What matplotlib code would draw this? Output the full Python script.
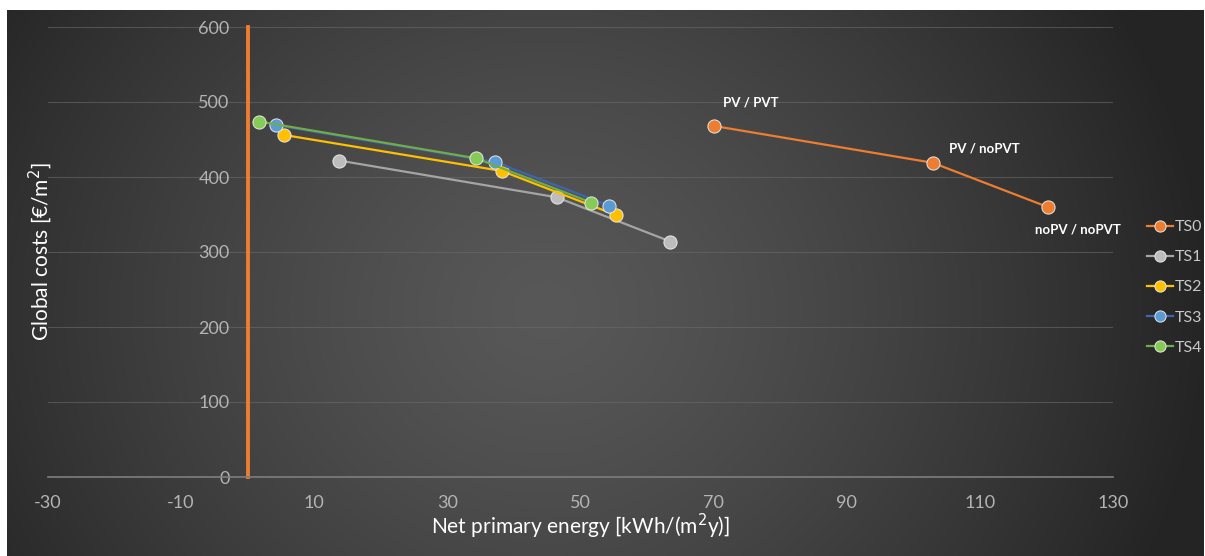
import numpy as np
import matplotlib
matplotlib.use("Agg")
import matplotlib.pyplot as plt

plt.rcParams['font.family'] = ['Lato', 'DejaVu Sans']
plt.rcParams['axes.unicode_minus'] = False

# data
series_names = ['TS0', 'TS1', 'TS2', 'TS3', 'TS4']
ts0_x = [70.1, 102.9, 120.2]
ts0_y = [468, 419, 360]
ts1_x = [13.7, 46.4, 63.5]
ts1_y = [422, 373, 314]
ts2_x = [5.5, 38.2, 55.4]
ts2_y = [456, 408, 349]
ts3_x = [4.3, 37.1, 54.3]
ts3_y = [469, 420, 362]
ts4_x = [1.7, 34.3, 51.6]
ts4_y = [474, 425, 366]
ts0_labels = ['PV / PVT', 'PV / noPVT', 'noPV / noPVT']
x_ticks = [-30, -10, 10, 30, 50, 70, 90, 110, 130]
y_ticks = [0, 100, 200, 300, 400, 500, 600]

line_cols = ['#ED7D31', '#A5A5A5', '#FFC000', '#3E64B0', '#70AD47']
mark_cols = ['#ED7D31', '#BDBDBD', '#FFC000', '#5B9BD5', '#86CB55']

W, H = 1205, 556
fig = plt.figure(figsize=(W / 100, H / 100), dpi=100)
fig.patch.set_facecolor('white')

# dark gradient backdrop
bg = fig.add_axes([7 / W, 0, (1204 - 7) / W, (H - 10) / H])
bg.set_axis_off()
gx, gy = np.meshgrid(np.linspace(0, 1, 400), np.linspace(0, 1, 200))
r = np.sqrt(((gx - 0.45) / 0.55) ** 2 + ((gy - 0.55) / 1.1) ** 2)
v = np.clip(0x58 - (0x58 - 0x25) * r ** 1.3, 0x24, 0x58) / 255.0
bg.imshow(np.dstack([v, v, v]), aspect='auto', extent=[0, 1, 0, 1])
bg.set_zorder(0)

ax = fig.add_axes([48 / W, (H - 477) / H, (1113 - 48) / W, (477 - 27) / H])
ax.set_zorder(1)
ax.patch.set_alpha(0)

xs = [ts0_x, ts1_x, ts2_x, ts3_x, ts4_x]
ys = [ts0_y, ts1_y, ts2_y, ts3_y, ts4_y]
for i in range(len(series_names)):
    ax.plot(xs[i], ys[i], '-', color=line_cols[i], lw=1.6, marker='o', ms=9.5,
            markerfacecolor=mark_cols[i], markeredgecolor='#e8e8e8', markeredgewidth=0.7,
            label=series_names[i], zorder=3 + i)

offsets = [(26, 17), (37, 10), (22, -16)]
for k in range(3):
    ax.annotate(ts0_labels[k], (ts0_x[k], ts0_y[k]), xytext=offsets[k],
                textcoords='offset points', ha='center', va='center',
                color='white', fontsize=9.5, fontweight='bold', zorder=10)

ax.set_xlim(-30, 130)
ax.set_ylim(0, 600)
ax.set_xticks(x_ticks)
ax.set_yticks(y_ticks)
ax.grid(axis='y', color='#6a6a6a', lw=0.8, alpha=0.6)
ax.set_axisbelow(True)

for s in ['top', 'right']:
    ax.spines[s].set_visible(False)
ax.spines['left'].set_position(('data', 0))
ax.spines['left'].set_color('#ED7D31')
ax.spines['left'].set_linewidth(2.8)
ax.spines['left'].set_zorder(2)
ax.spines['bottom'].set_color('#7e7e7e')
ax.spines['bottom'].set_linewidth(1.2)

ax.tick_params(axis='both', length=0, labelsize=13, labelcolor='#b4b4b4')
ax.tick_params(axis='y', pad=13)
ax.tick_params(axis='x', pad=13)

ax.set_xlabel('Net primary energy [kWh/(m$^2$y)]', color='white', fontsize=15)
ax.xaxis.set_label_coords(0.5, -(512 - 477) / 450)
ax.set_ylabel('Global costs [€/m$^2$]', color='white', fontsize=15)
ax.yaxis.set_label_coords(0.006, 0.5)

leg = ax.legend(loc='upper left', bbox_to_anchor=(1147 / W, (H - 220) / H),
                bbox_transform=fig.transFigure, frameon=False, fontsize=11.5,
                labelcolor='#c8c8c8', handlelength=1.6, handletextpad=0.15,
                labelspacing=1.0, markerscale=0.85, borderpad=0, borderaxespad=0)

fig.savefig('out.png', dpi=100, facecolor=fig.get_facecolor())
